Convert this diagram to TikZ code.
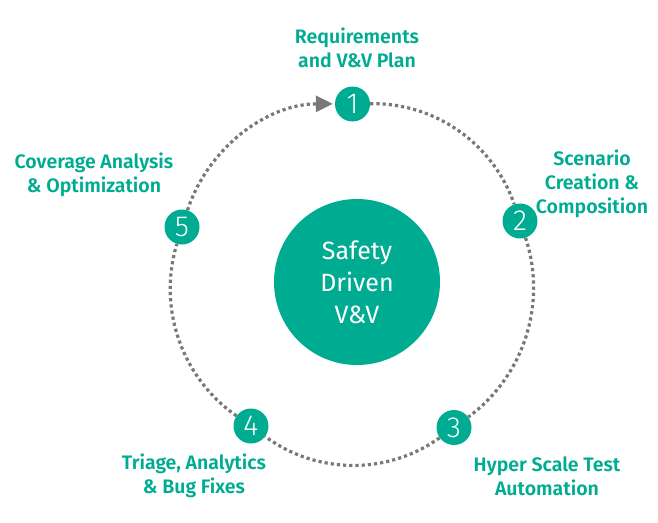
\documentclass[tikz,border=0pt]{standalone}
\usepackage{fontspec}
\setmainfont{Fira Sans}
\newfontfamily\labelfont{Fira Sans SemiBold}
\newfontfamily\numfont{Fira Sans Light}
\usetikzlibrary{arrows.meta}
\definecolor{vvteal}{RGB}{0,172,145}
\definecolor{dotgray}{RGB}{120,120,120}
\begin{document}
\begin{tikzpicture}[x=1pt,y=-1pt,
  stepnum/.style={circle, fill=vvteal, minimum size=35pt, inner sep=0pt,
    text=white, font=\numfont\fontsize{29}{29}\selectfont},
  caption/.style={align=center, text=vvteal, inner sep=0pt,
    font=\labelfont\fontsize{19.5}{24}\selectfont},
  dots/.style={draw=dotgray, line width=3.2pt, dash pattern=on 3.2pt off 3pt},
  cycle/.style={dots, bend left=36, looseness=0.94},
]
\useasboundingbox (0,0) rectangle (658,522);

% central hub
\node[circle, fill=vvteal, minimum size=166pt, inner sep=0pt, text=white,
  align=center, font=\fontsize{25}{32}\selectfont] (core) at (357,282)
  {Safety\\Driven\\V\&V};

% numbered stages on the cycle
\node[stepnum] (n1) at (352.5,104) {1};
\node[stepnum] (n2) at (520,221) {2};
\node[stepnum] (n3) at (454,427.5) {3};
\node[stepnum] (n4) at (251,426) {4};
\node[stepnum] (n5) at (182,227) {5};

% dotted cycle between stages
\draw[cycle] (n1) to (n2);
\draw[cycle] (n2) to (n3);
\draw[cycle] (n3) to (n4);
\draw[cycle] (n4) to (n5);
\draw[cycle, shorten >=2pt, -{Triangle[length=17pt,width=16pt]}] (n5) to (n1);

% stage captions
\node[caption] (l1) at (357,48) {Requirements\\and V\&V Plan};
\node[caption] (l2) at (592,184) {Scenario\\Creation \&\\Composition};
\node[caption] (l3) at (547,476) {Hyper Scale Test\\Automation};
\node[caption] (l4) at (194,476) {Triage, Analytics\\\& Bug Fixes};
\node[caption] (l5) at (94,175) {Coverage Analysis\\\& Optimization};
\end{tikzpicture}
\end{document}
